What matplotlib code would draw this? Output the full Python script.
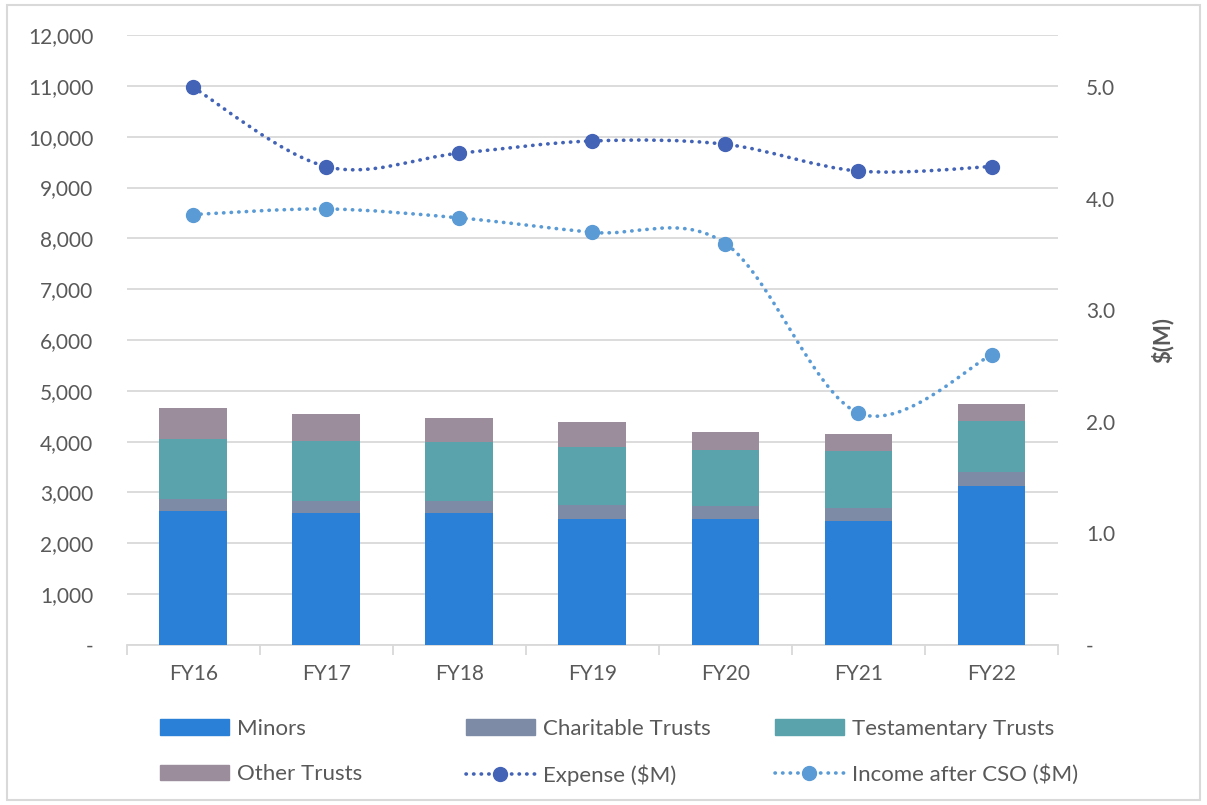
import numpy as np
import matplotlib
matplotlib.use("Agg")
import matplotlib.pyplot as plt
from matplotlib.path import Path
from matplotlib.patches import PathPatch, Patch, Rectangle
from matplotlib.lines import Line2D
from matplotlib.ticker import FuncFormatter, MultipleLocator

plt.rcParams['font.family'] = ['Lato', 'DejaVu Sans']

years = ['FY16', 'FY17', 'FY18', 'FY19', 'FY20', 'FY21', 'FY22']
minors = [2630, 2600, 2600, 2480, 2480, 2430, 3135]
charitable = [240, 240, 240, 270, 250, 270, 265]
testamentary = [1180, 1175, 1150, 1150, 1110, 1110, 1015]
other = [615, 525, 470, 485, 355, 335, 330]
expense = [5.00, 4.29, 4.41, 4.52, 4.49, 4.25, 4.29]
income = [3.86, 3.91, 3.83, 3.70, 3.60, 2.08, 2.60]

c_minors = '#2A7FD6'
c_char = '#7D8BA6'
c_test = '#5AA2AC'
c_other = '#9C8D9C'
c_exp = '#4363B6'
c_inc = '#5B9BD5'
grey = '#595959'
grid = '#D9D9D9'


def smooth_path(xs, ys):
    # cubic bezier through the points, like a spreadsheet "smoothed line"
    pts = np.column_stack([xs, ys]).astype(float)
    n = len(pts)
    verts = [pts[0]]
    codes = [Path.MOVETO]
    for i in range(n - 1):
        p0 = pts[max(i - 1, 0)]
        p1 = pts[i]
        p2 = pts[i + 1]
        p3 = pts[min(i + 2, n - 1)]
        c1 = p1 + (p2 - p0) / 6.0
        c2 = p2 - (p3 - p1) / 6.0
        verts += [c1, c2, p2]
        codes += [Path.CURVE4] * 3
    return Path(verts, codes)


fig = plt.figure(figsize=(12.07, 8.05), dpi=100)
ax = fig.add_axes([0.105, 0.1988, 0.7716, 0.7577])
ax2 = ax.twinx()

x = np.arange(len(years))
w = 0.51
b1 = np.array(minors)
b2 = b1 + np.array(charitable)
b3 = b2 + np.array(testamentary)
ax.bar(x, minors, w, color=c_minors, zorder=3)
ax.bar(x, charitable, w, bottom=b1, color=c_char, zorder=3)
ax.bar(x, testamentary, w, bottom=b2, color=c_test, zorder=3)
ax.bar(x, other, w, bottom=b3, color=c_other, zorder=3)

ax.set_xlim(-0.5, len(years) - 0.5)
ax.set_ylim(0, 12000)
ax.yaxis.set_major_locator(MultipleLocator(1000))
ax.yaxis.set_major_formatter(FuncFormatter(lambda v, p: '-' if v == 0 else f'{int(v):,}'))
ax.grid(axis='y', color=grid, lw=1.3, zorder=0)
ax.set_axisbelow(True)
for s in ['top', 'right', 'left']:
    ax.spines[s].set_visible(False)
ax.spines['bottom'].set_color(grid)
ax.spines['bottom'].set_linewidth(1.3)
ax.set_xticks(x)
ax.set_xticklabels(years)
ax.set_xticks(np.arange(-0.5, len(years)), minor=True)
ax.tick_params(axis='x', which='major', length=0, pad=14, labelsize=15, labelcolor=grey)
ax.tick_params(axis='x', which='minor', length=7, width=1.3, color=grid)
ax.tick_params(axis='y', length=0, pad=24, labelsize=15, labelcolor=grey)

# secondary axis: dollar lines
ax2.set_ylim(0, 5.47)
ax2.set_yticks([0, 1, 2, 3, 4, 5])
ax2.yaxis.set_major_formatter(FuncFormatter(lambda v, p: '-' if v == 0 else f'{v:.1f}'))
ax2.tick_params(axis='y', length=0, pad=20, labelsize=15, labelcolor=grey)
for s in ax2.spines.values():
    s.set_visible(False)
ax2.set_ylabel('$(M)', fontsize=16, color=grey, fontweight='bold', labelpad=26)

for vals, col in [(expense, c_exp), (income, c_inc)]:
    patch = PathPatch(smooth_path(x, vals), fill=False, edgecolor=col, lw=2.6,
                      linestyle=(0, (0.1, 2.0)), capstyle='round', zorder=4)
    ax2.add_patch(patch)
    ax2.plot(x, vals, 'o', color=col, ms=10, zorder=5)

# legend laid out in three columns
dot = dict(ls=(0, (0.1, 2.0)), lw=2.6, dash_capstyle='round', marker='o', ms=10)
cols = [
    ([Patch(color=c_minors), Patch(color=c_other)], ['Minors', 'Other Trusts'], 0.1325),
    ([Patch(color=c_char), Line2D([], [], color=c_exp, **dot)],
     ['Charitable Trusts', 'Expense ($M)'], 0.386),
    ([Patch(color=c_test), Line2D([], [], color=c_inc, **dot)],
     ['Testamentary Trusts', 'Income after CSO ($M)'], 0.642),
]
for handles, labels, xpos in cols:
    fig.legend(handles, labels, loc='upper left', bbox_to_anchor=(xpos, 0.107),
               frameon=False, fontsize=16, handlelength=3.1, handleheight=0.7,
               handletextpad=0.36, labelspacing=1.15, borderpad=0, borderaxespad=0,
               numpoints=1, labelcolor=grey)

fig.add_artist(Rectangle((0.006, 0.006), 0.988, 0.988, transform=fig.transFigure,
                         fill=False, edgecolor=grid, lw=1.5))

fig.savefig('out.png', dpi=100)
